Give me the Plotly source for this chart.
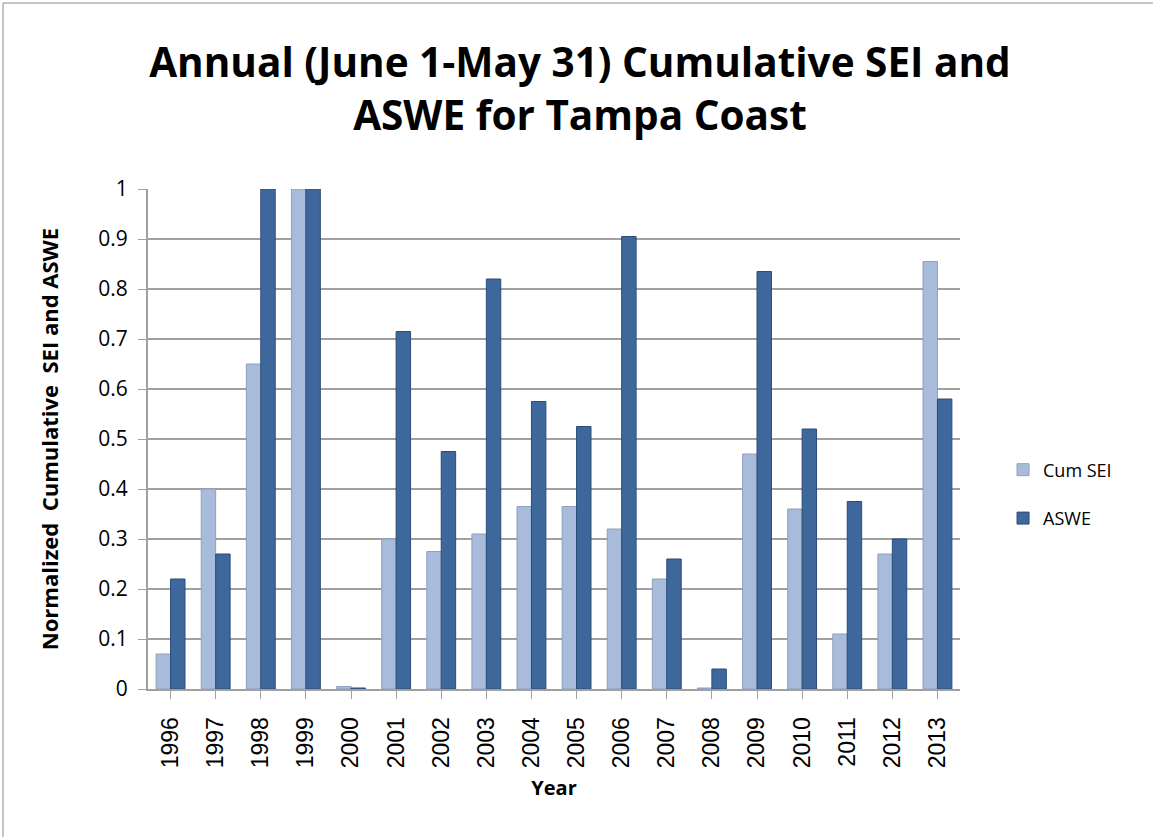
import plotly.graph_objects as go

years = [str(y) for y in range(1996, 2014)]
cum_sei = [0.07, 0.40, 0.65, 1.0, 0.005, 0.30, 0.275, 0.31, 0.365, 0.365,
           0.32, 0.22, 0.002, 0.47, 0.36, 0.11, 0.27, 0.855]
aswe = [0.22, 0.27, 1.0, 1.0, 0.002, 0.715, 0.475, 0.82, 0.575, 0.525,
        0.905, 0.26, 0.04, 0.835, 0.52, 0.375, 0.30, 0.58]
y_ticks = [i / 10 for i in range(11)]
y_labels = ["0", "0.1", "0.2", "0.3", "0.4", "0.5", "0.6", "0.7", "0.8", "0.9", "1"]

FONT = "Open Sans, Lato, sans-serif"
W, H = 1153, 837
L, R, T, B = 148, 193, 189, 148
pw, ph = W - L - R, H - T - B

fig = go.Figure()
fig.add_trace(go.Bar(x=years, y=cum_sei, name="Cum SEI", legendgroup="a",
                     marker=dict(color="#A9BBDA", line=dict(color="#8E9FBF", width=1))))
fig.add_trace(go.Bar(x=years, y=aswe, name="ASWE", legendgroup="b",
                     marker=dict(color="#3E689C", line=dict(color="#2A4C78", width=1))))

# outer chart border
fig.add_shape(type="rect", xref="paper", yref="paper",
              x0=(3 - L) / pw, x1=(W + 5 - L) / pw,
              y0=-(H + 5 - T - ph) / ph, y1=(T - 3) / ph + 1,
              line=dict(color="#8C8C8C", width=1), layer="below")

fig.update_layout(
    width=W, height=H,
    margin=dict(l=L, r=R, t=T, b=B, autoexpand=False),
    paper_bgcolor="white", plot_bgcolor="white",
    barmode="group", bargap=0.36, bargroupgap=0.0,
    font=dict(family=FONT, color="black"),
    title=dict(text="<b>Annual (June 1-May 31) Cumulative SEI and<br>ASWE for Tampa Coast</b>",
               x=0.503, xanchor="center", xref="container", y=0.908, yanchor="middle",
               font=dict(size=40.5, family=FONT)),
    xaxis=dict(tickangle=-90, tickfont=dict(size=23, family="Liberation Sans, Arial"),
               ticklabelstandoff=9,
               showgrid=False, showline=True, linecolor="#A0A0A0", linewidth=2,
               ticks="outside", ticklen=8, tickcolor="#A0A0A0",
               title=dict(text="<b>Year</b>", font=dict(size=20), standoff=14)),
    yaxis=dict(range=[0, 1.0], tickvals=y_ticks, ticktext=y_labels,
               tickfont=dict(size=21), ticklabelstandoff=6,
               showgrid=True, gridcolor="#A0A0A0", gridwidth=2,
               showline=True, linecolor="#A0A0A0", linewidth=2,
               ticks="outside", ticklen=8, tickcolor="#A0A0A0", zeroline=False,
               title=dict(text="<b>Normalized\u00a0 Cumulative\u00a0 SEI and ASWE</b>",
                          font=dict(size=22), standoff=34)),
    legend=dict(x=1.053, y=0.39, xanchor="left", yanchor="middle",
                font=dict(size=18), tracegroupgap=22, itemwidth=30,
                traceorder="grouped"),
)

fig.write_html("out.html", config={"displayModeBar": False},
               post_script="document.body.style.margin='0';")
